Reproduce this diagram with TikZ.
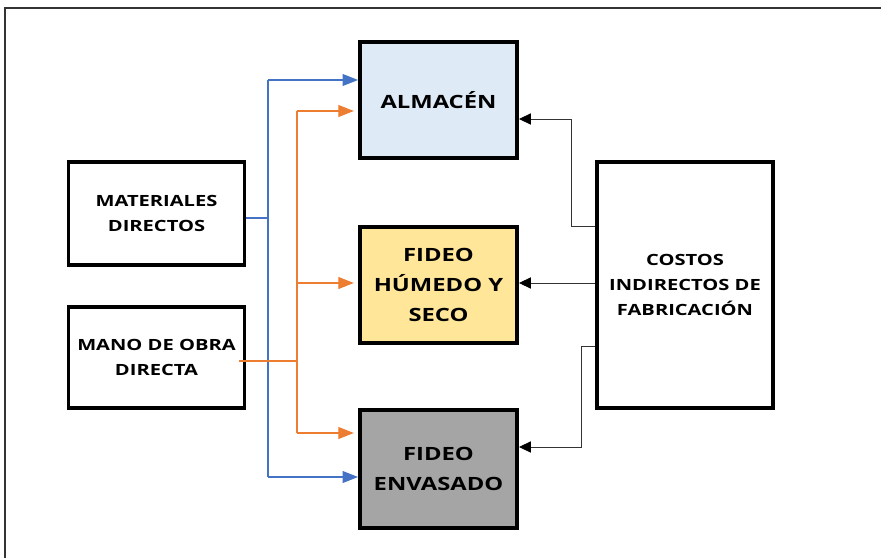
\documentclass[tikz,border=0pt]{standalone}
\usepackage{fontspec}
\usetikzlibrary{arrows.meta}
\newfontfamily\cajafont{Open Sans}[FakeStretch=1.3]
\definecolor{azulclaro}{HTML}{DEEBF7}
\definecolor{amarillo}{HTML}{FFE699}
\definecolor{gris}{HTML}{A5A5A5}
\definecolor{azul}{HTML}{4472C4}
\definecolor{naranja}{HTML}{ED7D31}
\begin{document}
\begin{tikzpicture}[x=0.025cm, y=-0.025cm,
	caja/.style={draw, line width=2.8pt, align=center, inner sep=0pt,
		font=\cajafont\bfseries\fontsize{11}{17.7}\selectfont},
	grande/.style={caja, minimum width=3.925cm, font=\cajafont\bfseries\fontsize{13}{21.3}\selectfont},
	lazul/.style={draw=azul, line width=0.75pt},
	lnaranja/.style={draw=naranja, line width=0.75pt},
	lnegro/.style={draw=black!80, line width=0.6pt},
	pazul/.style={-{Triangle[length=11pt, width=8.5pt]}},
	pnegro/.style={-{Triangle[length=8.5pt, width=8pt, fill=black, color=black]}}]
	\useasboundingbox (0,0) rectangle (881,558);
	\draw[black!80, line width=1pt] (5,8) rectangle (900,580);

	\node[grande, fill=azulclaro, minimum height=2.9cm] at (438.5,100) (alm) {ALMACÉN};
	\node[grande, fill=amarillo, minimum height=2.9cm] at (438.5,285) (hum) {FIDEO\\HÚMEDO Y\\SECO};
	\node[grande, fill=gris, minimum height=2.95cm] at (438.5,469) (env) {FIDEO\\ENVASADO};
	\node[caja, minimum width=4.4cm, minimum height=2.575cm] at (156.5,213.5) (mat) {MATERIALES\\DIRECTOS};
	\node[caja, minimum width=4.4cm, minimum height=2.525cm] at (156.5,357.5) (mano) {MANO DE OBRA\\DIRECTA};
	\node[caja, minimum width=4.4cm, minimum height=6.15cm] at (685,285) (cif) {COSTOS\\INDIRECTOS DE\\FABRICACIÓN};

	% materiales directos
	\coordinate (b1) at (268,80);
	\coordinate (b2) at (268,477);
	\coordinate (b3) at (268,218);
	\draw[lazul] (b3 -| mat.east) -- (b3);
	\draw[lazul] (b1) -- (b2);
	\draw[lazul, pazul] (b1) -- (b1 -| alm.west);
	\draw[lazul, pazul] (b2) -- (b2 -| env.west);

	% mano de obra
	\coordinate (n1) at (297,111);
	\coordinate (n2) at (297,283);
	\coordinate (n3) at (297,433);
	\coordinate (n4) at (297,361);
	\draw[lnaranja] ([xshift=-5pt]n4 -| mano.east) -- (n4);
	\draw[lnaranja] (n1) -- (n3);
	\draw[lnaranja, pazul, shorten >=3pt] (n1) -- (n1 -| alm.west);
	\draw[lnaranja, pazul, shorten >=3pt] (n2) -- (n2 -| hum.west);
	\draw[lnaranja, pazul, shorten >=3pt] (n3) -- (n3 -| env.west);

	% costos indirectos
	\coordinate (k1) at (571,226);
	\coordinate (k2) at (571,119);
	\coordinate (k3) at (581,346);
	\coordinate (k4) at (581,447);
	\draw[lnegro, pnegro] (k1 -| cif.west) -- (k1) -- (k2) -- (k2 -| alm.east);
	\draw[lnegro, pnegro] (n2 -| cif.west) -- (n2 -| hum.east);
	\draw[lnegro, pnegro] (k3 -| cif.west) -- (k3) -- (k4) -- (k4 -| env.east);
\end{tikzpicture}
\end{document}
